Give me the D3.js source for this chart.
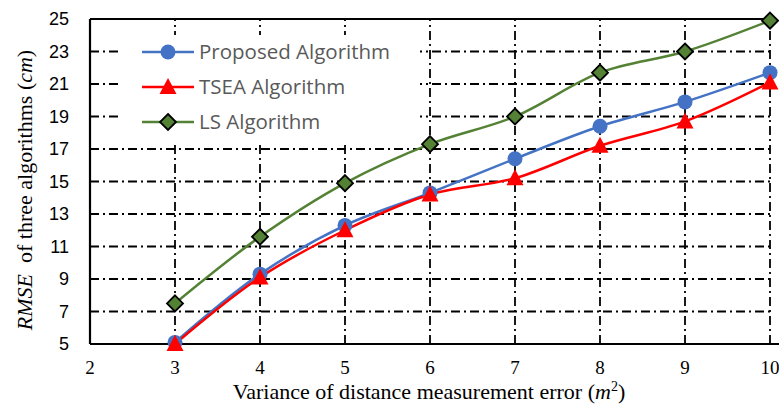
<!DOCTYPE html>
<html>
<head>
<meta charset="utf-8">
<script src="https://cdn.jsdelivr.net/npm/d3@7"></script>
<style>
  body { margin: 0; background: #fff; }
  svg { display: block; }
</style>
</head>
<body>
<div id="chart"></div>
<script>
// data
const variance = [3, 4, 5, 6, 7, 8, 9, 10]
const proposed = [5.1, 9.3, 12.3, 14.3, 16.4, 18.4, 19.9, 21.7]
const tsea = [5.0, 9.1, 12.0, 14.2, 15.2, 17.2, 18.7, 21.1]
const ls = [7.5, 11.6, 14.9, 17.3, 19.0, 21.7, 23.0, 24.9]
const xTicks = [2, 3, 4, 5, 6, 7, 8, 9, 10]
const yTicks = [5, 7, 9, 11, 13, 15, 17, 19, 21, 23, 25]
const seriesNames = ['Proposed Algorithm', 'TSEA Algorithm', 'LS Algorithm']

const W = 779, H = 408
const margin = {top: 19, right: 9, bottom: 64, left: 90}
const width = W - margin.left - margin.right
const height = H - margin.top - margin.bottom

const svg = d3.select('#chart').append('svg')
  .attr('width', W)
  .attr('height', H)

const g = svg.append('g')
  .attr('transform', 'translate(' + margin.left + ',' + margin.top + ')')

const x = d3.scaleLinear().domain([2, 10]).range([0, width])
const y = d3.scaleLinear().domain([5, 25]).range([height, 0])

// dash-dot grid
const dash = '9,4,2,4'
g.append('g').selectAll('line')
  .data(yTicks.filter(d => d > 5 && d < 25))
  .enter().append('line')
    .attr('x1', 0).attr('x2', width)
    .attr('y1', d => y(d)).attr('y2', d => y(d))
    .attr('stroke', '#000').attr('stroke-width', 1.8)
    .attr('stroke-dasharray', dash)
g.append('g').selectAll('line')
  .data(xTicks.filter(d => d > 2))
  .enter().append('line')
    .attr('x1', d => x(d)).attr('x2', d => x(d))
    .attr('y1', height).attr('y2', 0)
    .attr('stroke', '#000').attr('stroke-width', 1.8)
    .attr('stroke-dasharray', dash)

// solid frame lines (left, bottom, top)
g.append('line').attr('x1', 0).attr('x2', 0).attr('y1', 0).attr('y2', height)
  .attr('stroke', '#000').attr('stroke-width', 2.2)
g.append('line').attr('x1', 0).attr('x2', width + 9).attr('y1', height).attr('y2', height)
  .attr('stroke', '#000').attr('stroke-width', 2.2)
g.append('line').attr('x1', 0).attr('x2', width).attr('y1', 0).attr('y2', 0)
  .attr('stroke', '#000').attr('stroke-width', 2.2)

// tick labels
g.append('g').selectAll('text')
  .data(yTicks)
  .enter().append('text')
    .attr('x', -21)
    .attr('y', d => y(d))
    .attr('dy', '0.36em')
    .attr('text-anchor', 'end')
    .style('font-family', 'Liberation Sans, Arial, sans-serif')
    .style('font-size', '18px')
    .text(d => d)

g.append('g').selectAll('text')
  .data(xTicks)
  .enter().append('text')
    .attr('x', d => x(d))
    .attr('y', height + 30)
    .attr('text-anchor', 'middle')
    .style('font-family', 'Liberation Serif, Times New Roman, serif')
    .style('font-size', '19px')
    .text(d => d)

// axis titles
const xt = svg.append('text')
  .attr('x', margin.left + width / 2 - 1)
  .attr('y', H - 9)
  .attr('text-anchor', 'middle')
  .style('font-family', 'Liberation Serif, Times New Roman, serif')
  .style('font-size', '22px')
xt.append('tspan').text('Variance of distance measurement error (')
xt.append('tspan').style('font-style', 'italic').text('m')
xt.append('tspan').attr('dy', -8).style('font-size', '14px').text('2')
xt.append('tspan').attr('dy', 8).text(')')

const yt = svg.append('text')
  .attr('transform', 'translate(32,' + 190 + ') rotate(-90)')
  .attr('text-anchor', 'middle')
  .style('font-family', 'Liberation Serif, Times New Roman, serif')
  .style('font-size', '22px')
yt.append('tspan').style('font-style', 'italic').text('RMSE')
yt.append('tspan').text('\u00a0 of three algorithms (')
yt.append('tspan').style('font-style', 'italic').text('cm')
yt.append('tspan').text(')')

// series
const series = [
  {name: seriesNames[0], values: proposed, color: '#4472C4', marker: 'circle'},
  {name: seriesNames[1], values: tsea, color: '#FF0000', marker: 'triangle'},
  {name: seriesNames[2], values: ls, color: '#548235', marker: 'diamond'}
]

const line = d3.line()
  .x(d => x(d[0]))
  .y(d => y(d[1]))
  .curve(d3.curveCatmullRom.alpha(0.5))

function drawMarker(sel, s) {
  if (s.marker === 'circle') {
    sel.append('circle').attr('r', 7.5).attr('fill', s.color)
  } else if (s.marker === 'triangle') {
    sel.append('path').attr('d', 'M0,-9L8.5,7L-8.5,7Z').attr('fill', s.color)
  } else {
    sel.append('path').attr('d', 'M0,-8L8,0L0,8L-8,0Z')
      .attr('fill', s.color).attr('stroke', '#000').attr('stroke-width', 1.8)
  }
}

series.forEach(s => {
  const pts = variance.map((v, i) => [v, s.values[i]])
  g.append('path')
    .datum(pts)
    .attr('d', line)
    .attr('fill', 'none')
    .attr('stroke', s.color)
    .attr('stroke-width', 2.5)
})
series.forEach(s => {
  const pts = variance.map((v, i) => [v, s.values[i]])
  g.append('g').selectAll('g')
    .data(pts)
    .enter().append('g')
      .attr('transform', d => 'translate(' + x(d[0]) + ',' + y(d[1]) + ')')
      .each(function() { drawMarker(d3.select(this), s) })
})

// legend
const legend = svg.append('g').attr('transform', 'translate(120,35)')
legend.append('rect')
  .attr('width', 300).attr('height', 108)
  .attr('fill', '#fff')
series.forEach((s, i) => {
  const row = legend.append('g').attr('transform', 'translate(0,' + (17 + i * 35) + ')')
  row.append('line').attr('x1', 22).attr('x2', 74)
    .attr('stroke', s.color).attr('stroke-width', 2.5)
  drawMarker(row.append('g').attr('transform', 'translate(48,0)'), s)
  row.append('text')
    .attr('x', 79)
    .attr('dy', '0.35em')
    .style('font-family', 'Open Sans, sans-serif')
    .style('font-size', '20.5px')
    .style('fill', '#595959')
    .text(s.name)
})
</script>
</body>
</html>
